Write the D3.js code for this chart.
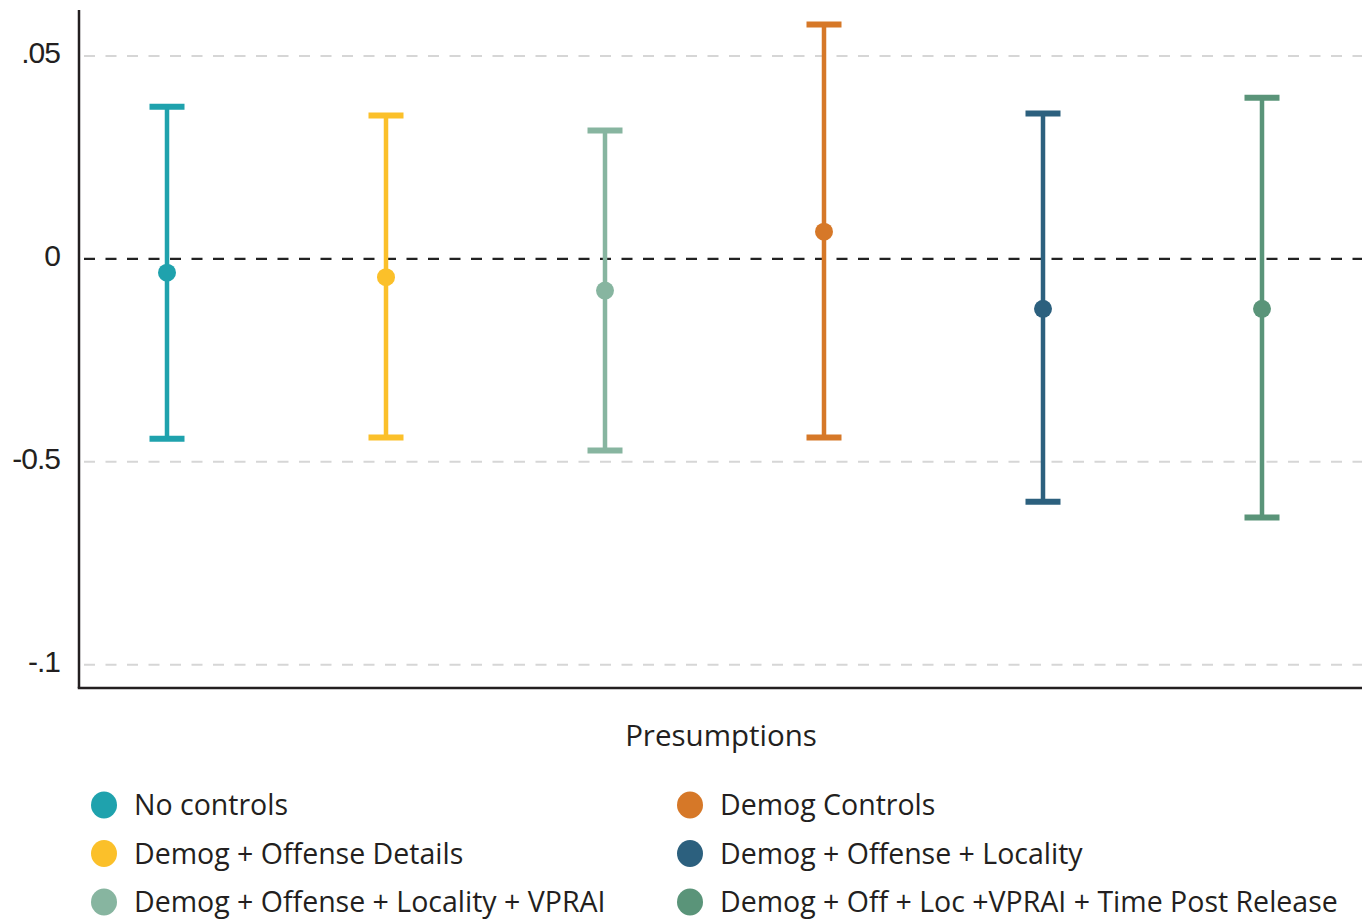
<!DOCTYPE html>
<html>
<head>
<meta charset="utf-8">
<script src="https://cdn.jsdelivr.net/npm/d3@7"></script>
<style>
  html, body { margin: 0; padding: 0; background: #fff; }
  svg { display: block; }
</style>
</head>
<body>
<svg id="chart" width="1369" height="922"></svg>
<script>
// Model specifications and their estimates with confidence bounds
const models = [
  "No controls",
  "Demog + Offense Details",
  "Demog + Offense + Locality + VPRAI",
  "Demog Controls",
  "Demog + Offense + Locality",
  "Demog + Off + Loc +VPRAI + Time Post Release"
];
// Plot order left to right
const plotOrder = [0, 1, 2, 3, 4, 5];
const estimates = [-0.0034, -0.0045, -0.0078, 0.0067, -0.0123, -0.0123];
const upperCI   = [0.0375, 0.0353, 0.0316, 0.0577, 0.0358, 0.0397];
const lowerCI   = [-0.0443, -0.0440, -0.0472, -0.0440, -0.0598, -0.0637];
const colors    = ["#1fa2ad", "#fbc02a", "#87b5a0", "#d67828", "#2c607e", "#5a9479"];

const tickValues = [0.05, 0, -0.05, -0.1];
const tickLabels = [".05", "0", "-0.5", "-.1"];
const xTitle = "Presumptions";

const svg = d3.select("#chart");
const margin = { left: 79, right: 7, top: 10, bottom: 234 };
const W = 1369, H = 922;
const plotW = W - margin.left - margin.right;
const plotH = H - margin.top - margin.bottom;

const g = svg.append("g").attr("transform", `translate(${margin.left},${margin.top})`);

const y = d3.scaleLinear().domain([-0.1057, 0.0613]).range([plotH, 0]);
const x = d3.scalePoint().domain(plotOrder).range([88, 1183]);

// Gridlines
g.append("g").selectAll("line").data(tickValues.filter(v => v !== 0)).join("line")
  .attr("x1", 5).attr("x2", plotW)
  .attr("y1", d => y(d)).attr("y2", d => y(d))
  .attr("stroke", "#d6d6d6").attr("stroke-width", 2)
  .attr("stroke-dasharray", "11 10.5");

// Zero reference line
g.append("line")
  .attr("x1", 5).attr("x2", plotW)
  .attr("y1", y(0)).attr("y2", y(0))
  .attr("stroke", "#222").attr("stroke-width", 2.2)
  .attr("stroke-dasharray", "11 10.5");

// Axes
const yAxis = d3.axisLeft(y).tickValues(tickValues).tickSize(0).tickPadding(19)
  .tickFormat((d, i) => tickLabels[i]);
const ya = g.append("g").call(yAxis);
ya.select(".domain").remove();
ya.selectAll("text")
  .attr("font-family", "'Liberation Sans', Arial, sans-serif")
  .attr("font-size", 30).attr("fill", "#231f20")
  .attr("dy", "0.22em").attr("letter-spacing", -1);

g.append("line").attr("x1", 0).attr("x2", 0).attr("y1", 0).attr("y2", plotH)
  .attr("stroke", "#231f20").attr("stroke-width", 2.5);
g.append("line").attr("x1", -1.25).attr("x2", plotW).attr("y1", plotH).attr("y2", plotH)
  .attr("stroke", "#231f20").attr("stroke-width", 2.5);

// Error bars
const capW = 35;
const bars = g.append("g").selectAll("g").data(plotOrder).join("g");
bars.append("line")
  .attr("x1", d => x(d)).attr("x2", d => x(d))
  .attr("y1", d => y(upperCI[d])).attr("y2", d => y(lowerCI[d]))
  .attr("stroke", d => colors[d]).attr("stroke-width", 4.5);
bars.append("line")
  .attr("x1", d => x(d) - capW / 2).attr("x2", d => x(d) + capW / 2)
  .attr("y1", d => y(upperCI[d])).attr("y2", d => y(upperCI[d]))
  .attr("stroke", d => colors[d]).attr("stroke-width", 6);
bars.append("line")
  .attr("x1", d => x(d) - capW / 2).attr("x2", d => x(d) + capW / 2)
  .attr("y1", d => y(lowerCI[d])).attr("y2", d => y(lowerCI[d]))
  .attr("stroke", d => colors[d]).attr("stroke-width", 6);
bars.append("circle")
  .attr("cx", d => x(d)).attr("cy", d => y(estimates[d]))
  .attr("r", 9).attr("fill", d => colors[d]);

// X-axis title
svg.append("text")
  .attr("x", 721).attr("y", 746)
  .attr("text-anchor", "middle")
  .attr("font-family", "'Open Sans', sans-serif")
  .attr("font-size", 29.5).attr("fill", "#231f20")
  .text(xTitle);

// Legend: two columns of three
const legend = svg.append("g");
const items = legend.selectAll("g").data(models.map((m, i) => i)).join("g")
  .attr("transform", (d, i) => `translate(${i < 3 ? 104 : 690},${805 + (i % 3) * 48.5})`);
items.append("ellipse").attr("rx", 13).attr("ry", 13.5).attr("fill", d => colors[d]);
items.append("text")
  .attr("x", 30).attr("y", 0).attr("dy", "0.36em")
  .attr("font-family", "'Open Sans', sans-serif")
  .attr("font-size", 28.5).attr("fill", "#231f20")
  .text(d => models[d]);
</script>
</body>
</html>
